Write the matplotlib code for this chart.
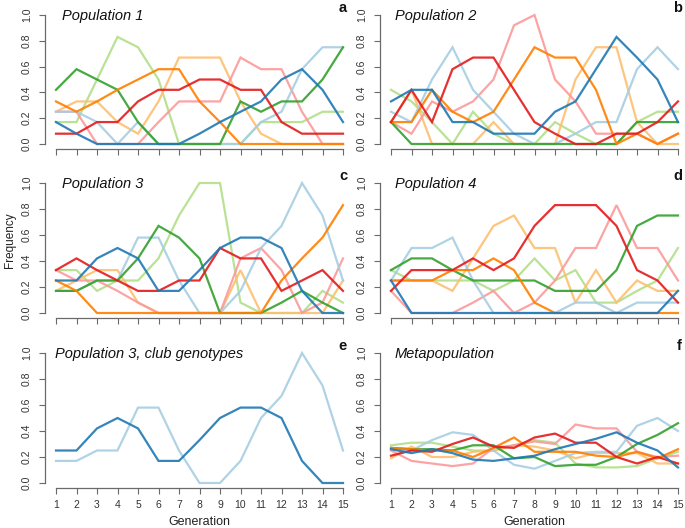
import matplotlib
matplotlib.use("Agg")
import matplotlib.pyplot as plt

plt.rcParams['font.family'] = ['Liberation Sans', 'DejaVu Sans']

W, H = 685, 528
generations = list(range(1, 16))

# genotype colours (light / dark pairs)
LB, DB = '#A6CEE3', '#1F78B4'
LG, DG = '#B2DF8A', '#33A02C'
PK, RD = '#FB9A99', '#E31A1C'
LO, OR = '#FDBF6F', '#FF7F00'

# Population 1
pop1_lb = [0.25, 0.25, 0.17, 0, 0.17, 0, 0, 0, 0, 0, 0.17, 0.25, 0.58, 0.75, 0.75]
pop1_db = [0.17, 0.08, 0, 0, 0, 0, 0, 0.08, 0.17, 0.25, 0.33, 0.5, 0.58, 0.42, 0.17]
pop1_lg = [0.17, 0.17, 0.5, 0.83, 0.75, 0.5, 0, 0, 0, 0, 0.17, 0.17, 0.17, 0.25, 0.25]
pop1_dg = [0.42, 0.58, 0.5, 0.42, 0.17, 0, 0, 0, 0, 0.33, 0.25, 0.33, 0.33, 0.5, 0.75]
pop1_pk = [0.25, 0.25, 0, 0, 0, 0.17, 0.33, 0.33, 0.33, 0.67, 0.58, 0.58, 0.25, 0, 0]
pop1_rd = [0.08, 0.08, 0.17, 0.17, 0.33, 0.42, 0.42, 0.5, 0.5, 0.42, 0.42, 0.17, 0.08, 0.08, 0.08]
pop1_lo = [0.25, 0.33, 0.33, 0.17, 0.08, 0.33, 0.67, 0.67, 0.67, 0.33, 0.08, 0, 0, 0, 0]
pop1_or = [0.33, 0.25, 0.33, 0.42, 0.5, 0.58, 0.58, 0.33, 0.17, 0, 0, 0, 0, 0, 0]

# Population 2
pop2_lb = [0.25, 0.17, 0.5, 0.75, 0.42, 0.25, 0.08, 0, 0, 0.08, 0.17, 0.17, 0.58, 0.75, 0.58]
pop2_db = [0.33, 0.42, 0.42, 0.17, 0.17, 0.08, 0.08, 0.08, 0.25, 0.33, 0.58, 0.83, 0.67, 0.5, 0.17]
pop2_lg = [0.42, 0.33, 0.17, 0, 0.25, 0.08, 0, 0, 0.17, 0.08, 0, 0, 0.17, 0.25, 0.25]
pop2_dg = [0.17, 0, 0, 0, 0, 0, 0, 0, 0, 0, 0, 0, 0.17, 0.17, 0.17]
pop2_pk = [0.17, 0.08, 0.33, 0.25, 0.33, 0.5, 0.92, 1.0, 0.5, 0.33, 0.08, 0.08, 0.08, 0, 0.08]
pop2_rd = [0.17, 0.42, 0.17, 0.58, 0.67, 0.67, 0.42, 0.17, 0.08, 0, 0, 0.08, 0.08, 0.17, 0.33]
pop2_lo = [0.17, 0.42, 0, 0, 0, 0.17, 0, 0, 0, 0.5, 0.75, 0.75, 0.17, 0, 0]
pop2_or = [0.17, 0.17, 0.42, 0.25, 0.17, 0.25, 0.5, 0.75, 0.67, 0.67, 0.42, 0, 0.08, 0, 0.08]

# Population 3
pop3_lb = [0.17, 0.17, 0.25, 0.25, 0.58, 0.58, 0.25, 0, 0, 0.17, 0.5, 0.67, 1.0, 0.75, 0.25]
pop3_db = [0.25, 0.25, 0.42, 0.5, 0.42, 0.17, 0.17, 0.33, 0.5, 0.58, 0.58, 0.5, 0.17, 0, 0]
pop3_lg = [0.33, 0.33, 0.17, 0.25, 0.25, 0.42, 0.75, 1.0, 1.0, 0.08, 0, 0, 0, 0.17, 0.08]
pop3_dg = [0.17, 0.17, 0.25, 0.25, 0.42, 0.67, 0.58, 0.42, 0, 0, 0, 0.08, 0.17, 0.08, 0]
pop3_pk = [0.33, 0.25, 0.25, 0.17, 0.08, 0, 0, 0, 0, 0.42, 0.5, 0.33, 0, 0.08, 0.42]
pop3_rd = [0.33, 0.42, 0.33, 0.25, 0.17, 0.17, 0.25, 0.25, 0.5, 0.42, 0.42, 0.17, 0.25, 0.33, 0.17]
pop3_lo = [0.17, 0.25, 0.33, 0.33, 0.08, 0, 0, 0, 0, 0.33, 0, 0, 0, 0, 0.25]
pop3_or = [0.25, 0.17, 0, 0, 0, 0, 0, 0, 0, 0, 0, 0.25, 0.42, 0.58, 0.83]

# Population 4
pop4_lb = [0.25, 0.5, 0.5, 0.58, 0.25, 0, 0, 0, 0, 0.08, 0.08, 0, 0.08, 0.08, 0.08]
pop4_db = [0.25, 0, 0, 0, 0, 0, 0, 0, 0, 0, 0, 0, 0, 0, 0.17]
pop4_lg = [0.33, 0.25, 0.25, 0.25, 0.25, 0.17, 0.25, 0.42, 0.25, 0.33, 0.08, 0.08, 0.17, 0.25, 0.5]
pop4_dg = [0.33, 0.42, 0.42, 0.33, 0.25, 0.25, 0.25, 0.25, 0.17, 0.17, 0.17, 0.33, 0.67, 0.75, 0.75]
pop4_pk = [0.17, 0, 0, 0, 0.08, 0.17, 0, 0.08, 0.25, 0.5, 0.5, 0.83, 0.5, 0.5, 0.25]
pop4_rd = [0.17, 0.33, 0.33, 0.33, 0.42, 0.33, 0.42, 0.67, 0.83, 0.83, 0.83, 0.67, 0.33, 0.25, 0.08]
pop4_lo = [0.25, 0.25, 0.25, 0.17, 0.42, 0.67, 0.75, 0.5, 0.5, 0.08, 0.33, 0.08, 0.25, 0.17, 0.17]
pop4_or = [0.25, 0.25, 0.25, 0.33, 0.33, 0.42, 0.33, 0.08, 0, 0, 0, 0, 0, 0, 0]

# Metapopulation
meta_lb = [0.26, 0.25, 0.33, 0.39, 0.37, 0.25, 0.14, 0.11, 0.17, 0.23, 0.24, 0.24, 0.44, 0.5, 0.4]
meta_db = [0.26, 0.23, 0.26, 0.23, 0.18, 0.17, 0.19, 0.21, 0.26, 0.3, 0.34, 0.39, 0.31, 0.25, 0.12]
meta_lg = [0.29, 0.31, 0.31, 0.28, 0.25, 0.25, 0.29, 0.33, 0.31, 0.15, 0.12, 0.12, 0.13, 0.19, 0.24]
meta_dg = [0.27, 0.26, 0.26, 0.25, 0.29, 0.29, 0.19, 0.2, 0.13, 0.14, 0.14, 0.2, 0.3, 0.37, 0.46]
meta_pk = [0.25, 0.17, 0.15, 0.13, 0.15, 0.27, 0.29, 0.32, 0.3, 0.45, 0.42, 0.42, 0.24, 0.2, 0.21]
meta_rd = [0.21, 0.25, 0.24, 0.3, 0.35, 0.28, 0.27, 0.35, 0.38, 0.31, 0.31, 0.2, 0.15, 0.2, 0.15]
meta_lo = [0.19, 0.28, 0.2, 0.2, 0.24, 0.25, 0.29, 0.28, 0.25, 0.19, 0.23, 0.23, 0.23, 0.15, 0.15]
meta_or = [0.27, 0.26, 0.25, 0.25, 0.2, 0.27, 0.35, 0.24, 0.24, 0.24, 0.21, 0.2, 0.24, 0.19, 0.26]


def fig_box(left, top, right, bottom):
    return [left / W, 1 - bottom / H, (right - left) / W, (bottom - top) / H]


def make_axes(fig, gen1_x, y_one, y_zero, bottom_row):
    ux = 20.5
    uy = y_zero - y_one
    xlo, xhi = 0.44, 15.3
    ylo, yhi = -0.042, 1.04
    ax = fig.add_axes(fig_box(gen1_x - (1 - xlo) * ux, y_one - (yhi - 1) * uy,
                              gen1_x + (xhi - 1) * ux, y_zero - ylo * uy))
    ax.set_xlim(xlo, xhi)
    ax.set_ylim(ylo, yhi)
    for s in ['top', 'right']:
        ax.spines[s].set_visible(False)
    ax.spines['left'].set_bounds(0, 1)
    ax.spines['bottom'].set_bounds(1, 15)
    for s in ['left', 'bottom']:
        ax.spines[s].set_color('#6a6a6a')
        ax.spines[s].set_linewidth(0.9)
    ax.set_yticks([0, 0.2, 0.4, 0.6, 0.8, 1.0])
    ax.set_yticklabels(['0.0', '0.2', '0.4', '0.6', '0.8', '1.0'], rotation=90, va='center')
    ax.set_xticks(generations)
    if bottom_row:
        ax.set_xticklabels([str(g) for g in generations])
    else:
        ax.set_xticklabels([])
    ax.tick_params(colors='#6a6a6a', labelcolor='#333333', labelsize=7.5,
                   length=4, width=0.8)
    ax.tick_params(axis='y', pad=5)
    ax.tick_params(axis='x', pad=4)
    ax.patch.set_alpha(0)
    return ax


def draw(ax, series):
    for vals, col in series:
        ax.plot(generations, vals, color=col, lw=1.6, alpha=0.9, solid_joinstyle='miter')


fig = plt.figure(figsize=(W / 100, H / 100), dpi=100)

panels = [
    (56, 15, 144, False, 'Population 1', 'a', 62,
     [(pop1_lg, LG), (pop1_lo, LO), (pop1_pk, PK), (pop1_lb, LB),
      (pop1_dg, DG), (pop1_or, OR), (pop1_rd, RD), (pop1_db, DB)]),
    (391, 15, 144, False, 'Population 2', 'b', 395,
     [(pop2_lg, LG), (pop2_lo, LO), (pop2_pk, PK), (pop2_lb, LB),
      (pop2_dg, DG), (pop2_or, OR), (pop2_rd, RD), (pop2_db, DB)]),
    (56, 183, 313, False, 'Population 3', 'c', 62,
     [(pop3_lg, LG), (pop3_lo, LO), (pop3_pk, PK), (pop3_lb, LB),
      (pop3_dg, DG), (pop3_or, OR), (pop3_rd, RD), (pop3_db, DB)]),
    (391, 183, 313, False, 'Population 4', 'd', 395,
     [(pop4_lg, LG), (pop4_lo, LO), (pop4_pk, PK), (pop4_lb, LB),
      (pop4_dg, DG), (pop4_or, OR), (pop4_rd, RD), (pop4_db, DB)]),
    (56, 353, 483, True, 'Population 3, club genotypes', 'e', 55,
     [(pop3_lb, LB), (pop3_db, DB)]),
    (391, 353, 483, True, 'Metapopulation', 'f', 395,
     [(meta_lg, LG), (meta_lo, LO), (meta_pk, PK), (meta_lb, LB),
      (meta_dg, DG), (meta_or, OR), (meta_rd, RD), (meta_db, DB)]),
]

for gx, y1, y0, bottom, title, letter, tx, series in panels:
    ax = make_axes(fig, gx, y1, y0, bottom)
    draw(ax, series)
    fig.text(tx / W, 1 - (y1 + 1) / H, title, fontsize=10.5, style='italic',
             ha='left', va='center', color='#111111')
    fig.text((gx + 291) / W, 1 - (y1 - 7) / H, letter, fontsize=10.5,
             fontweight='bold', ha='right', va='center', color='#111111')
    if bottom:
        fig.text((gx + 143.5) / W, 1 - 522 / H, 'Generation', fontsize=9,
                 ha='center', va='center', color='#222222')

fig.text(10 / W, 1 - 240 / H, 'Frequency', fontsize=8.5, rotation=90,
         ha='center', va='center', color='#222222')

fig.savefig('out.png', dpi=100)
